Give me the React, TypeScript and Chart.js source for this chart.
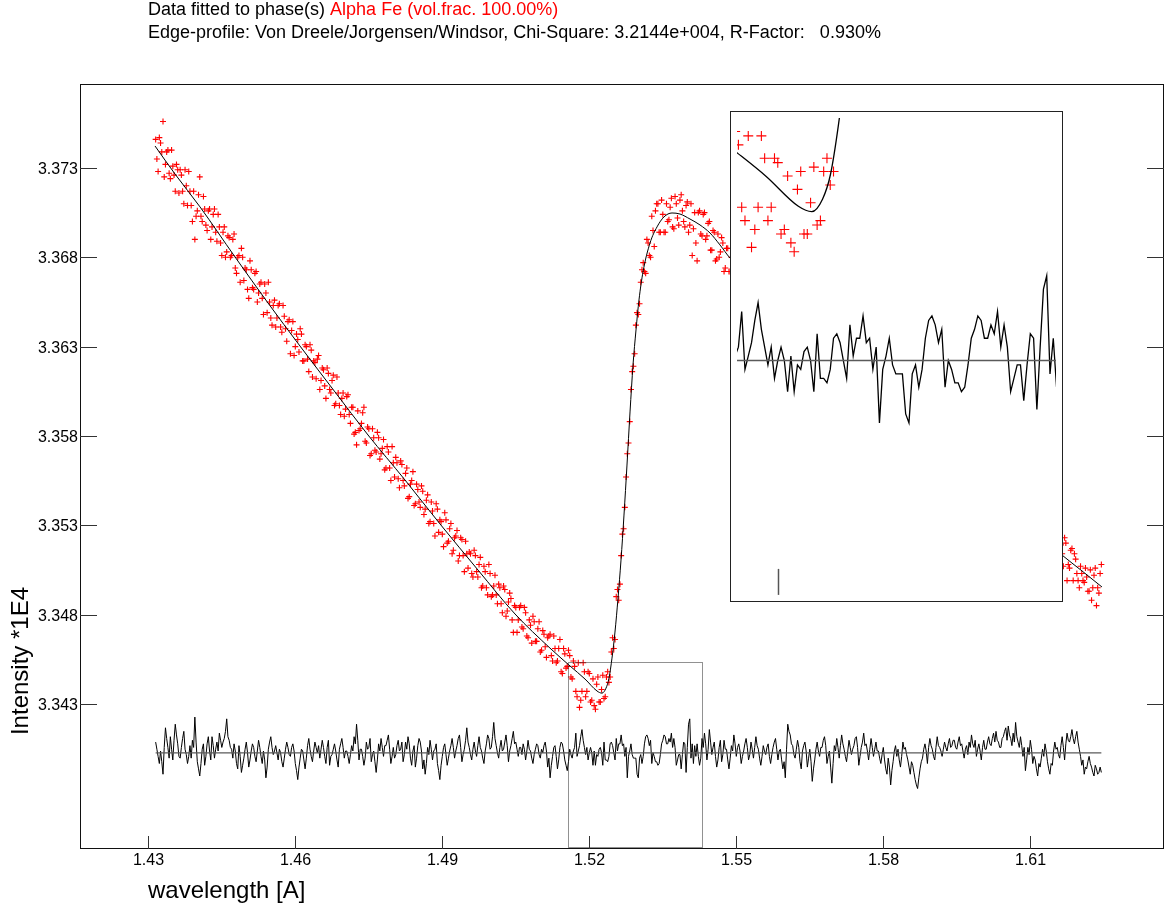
import { useEffect, useRef } from "react";
import { Chart, registerables } from "chart.js";

Chart.register(...registerables);

const FONT = '"Liberation Sans", Arial, Helvetica, sans-serif';

// Wavelength grid of the measured profile [A]
const wavelength = [
  1.4315, 1.43175, 1.432, 1.43225, 1.4325, 1.43275, 1.433, 1.43325, 1.4335, 1.43375,
  1.434, 1.43425, 1.4345, 1.43475, 1.435, 1.43525, 1.4355, 1.43575, 1.436, 1.43625,
  1.4365, 1.43675, 1.437, 1.43725, 1.4375, 1.43775, 1.438, 1.43825, 1.4385, 1.43875,
  1.439, 1.43925, 1.4395, 1.43975, 1.44, 1.44025, 1.4405, 1.44075, 1.441, 1.44125,
  1.4415, 1.44175, 1.442, 1.44225, 1.4425, 1.44275, 1.443, 1.44325, 1.4435, 1.44375,
  1.444, 1.44425, 1.4445, 1.44475, 1.445, 1.44525, 1.4455, 1.44575, 1.446, 1.44625,
  1.4465, 1.44675, 1.447, 1.44725, 1.4475, 1.44775, 1.448, 1.44825, 1.4485, 1.44875,
  1.449, 1.44925, 1.4495, 1.44975, 1.45, 1.45025, 1.4505, 1.45075, 1.451, 1.45125,
  1.4515, 1.45175, 1.452, 1.45225, 1.4525, 1.45275, 1.453, 1.45325, 1.4535, 1.45375,
  1.454, 1.45425, 1.4545, 1.45475, 1.455, 1.45525, 1.4555, 1.45575, 1.456, 1.45625,
  1.4565, 1.45675, 1.457, 1.45725, 1.4575, 1.45775, 1.458, 1.45825, 1.4585, 1.45875,
  1.459, 1.45925, 1.4595, 1.45975, 1.46, 1.46025, 1.4605, 1.46075, 1.461, 1.46125,
  1.4615, 1.46175, 1.462, 1.46225, 1.4625, 1.46275, 1.463, 1.46325, 1.4635, 1.46375,
  1.464, 1.46425, 1.4645, 1.46475, 1.465, 1.46525, 1.4655, 1.46575, 1.466, 1.46625,
  1.4665, 1.46675, 1.467, 1.46725, 1.4675, 1.46775, 1.468, 1.46825, 1.4685, 1.46875,
  1.469, 1.46925, 1.4695, 1.46975, 1.47, 1.47025, 1.4705, 1.47075, 1.471, 1.47125,
  1.4715, 1.47175, 1.472, 1.47225, 1.4725, 1.47275, 1.473, 1.47325, 1.4735, 1.47375,
  1.474, 1.47425, 1.4745, 1.47475, 1.475, 1.47525, 1.4755, 1.47575, 1.476, 1.47625,
  1.4765, 1.47675, 1.477, 1.47725, 1.4775, 1.47775, 1.478, 1.47825, 1.4785, 1.47875,
  1.479, 1.47925, 1.4795, 1.47975, 1.48, 1.48025, 1.4805, 1.48075, 1.481, 1.48125,
  1.4815, 1.48175, 1.482, 1.48225, 1.4825, 1.48275, 1.483, 1.48325, 1.4835, 1.48375,
  1.484, 1.48425, 1.4845, 1.48475, 1.485, 1.48525, 1.4855, 1.48575, 1.486, 1.48625,
  1.4865, 1.48675, 1.487, 1.48725, 1.4875, 1.48775, 1.488, 1.48825, 1.4885, 1.48875,
  1.489, 1.48925, 1.4895, 1.48975, 1.49, 1.49025, 1.4905, 1.49075, 1.491, 1.49125,
  1.4915, 1.49175, 1.492, 1.49225, 1.4925, 1.49275, 1.493, 1.49325, 1.4935, 1.49375,
  1.494, 1.49425, 1.4945, 1.49475, 1.495, 1.49525, 1.4955, 1.49575, 1.496, 1.49625,
  1.4965, 1.49675, 1.497, 1.49725, 1.4975, 1.49775, 1.498, 1.49825, 1.4985, 1.49875,
  1.499, 1.49925, 1.4995, 1.49975, 1.5, 1.50025, 1.5005, 1.50075, 1.501, 1.50125,
  1.5015, 1.50175, 1.502, 1.50225, 1.5025, 1.50275, 1.503, 1.50325, 1.5035, 1.50375,
  1.504, 1.50425, 1.5045, 1.50475, 1.505, 1.50525, 1.5055, 1.50575, 1.506, 1.50625,
  1.5065, 1.50675, 1.507, 1.50725, 1.5075, 1.50775, 1.508, 1.50825, 1.5085, 1.50875,
  1.509, 1.50925, 1.5095, 1.50975, 1.51, 1.51025, 1.5105, 1.51075, 1.511, 1.51125,
  1.5115, 1.51175, 1.512, 1.51225, 1.5125, 1.51275, 1.513, 1.51325, 1.5135, 1.51375,
  1.514, 1.51425, 1.5145, 1.51475, 1.515, 1.51525, 1.5155, 1.51575, 1.516, 1.51625,
  1.5165, 1.51675, 1.517, 1.51725, 1.5175, 1.51775, 1.518, 1.51825, 1.5185, 1.51875,
  1.519, 1.51925, 1.5195, 1.51975, 1.52, 1.52025, 1.5205, 1.52075, 1.521, 1.52125,
  1.5215, 1.52175, 1.522, 1.52225, 1.5225, 1.52275, 1.523, 1.52325, 1.5235, 1.52375,
  1.524, 1.52425, 1.5245, 1.52475, 1.525, 1.52525, 1.5255, 1.52575, 1.526, 1.52625,
  1.5265, 1.52675, 1.527, 1.52725, 1.5275, 1.52775, 1.528, 1.52825, 1.5285, 1.52875,
  1.529, 1.52925, 1.5295, 1.52975, 1.53, 1.53025, 1.5305, 1.53075, 1.531, 1.53125,
  1.5315, 1.53175, 1.532, 1.53225, 1.5325, 1.53275, 1.533, 1.53325, 1.5335, 1.53375,
  1.534, 1.53425, 1.5345, 1.53475, 1.535, 1.53525, 1.5355, 1.53575, 1.536, 1.53625,
  1.5365, 1.53675, 1.537, 1.53725, 1.5375, 1.53775, 1.538, 1.53825, 1.5385, 1.53875,
  1.539, 1.53925, 1.5395, 1.53975, 1.54, 1.54025, 1.5405, 1.54075, 1.541, 1.54125,
  1.5415, 1.54175, 1.542, 1.54225, 1.5425, 1.54275, 1.543, 1.54325, 1.5435, 1.54375,
  1.544, 1.54425, 1.5445, 1.54475, 1.545, 1.54525, 1.5455, 1.54575, 1.546, 1.54625,
  1.5465, 1.54675, 1.547, 1.54725, 1.5475, 1.54775, 1.548, 1.54825, 1.5485, 1.54875,
  1.549, 1.54925, 1.5495, 1.54975, 1.55, 1.55025, 1.5505, 1.55075, 1.551, 1.55125,
  1.5515, 1.55175, 1.552, 1.55225, 1.5525, 1.55275, 1.553, 1.55325, 1.5535, 1.55375,
  1.554, 1.55425, 1.5545, 1.55475, 1.555, 1.55525, 1.5555, 1.55575, 1.556, 1.55625,
  1.5565, 1.55675, 1.557, 1.55725, 1.5575, 1.55775, 1.558, 1.55825, 1.5585, 1.55875,
  1.559, 1.55925, 1.5595, 1.55975, 1.56, 1.56025, 1.5605, 1.56075, 1.561, 1.56125,
  1.5615, 1.56175, 1.562, 1.56225, 1.5625, 1.56275, 1.563, 1.56325, 1.5635, 1.56375,
  1.564, 1.56425, 1.5645, 1.56475, 1.565, 1.56525, 1.5655, 1.56575, 1.566, 1.56625,
  1.5665, 1.56675, 1.567, 1.56725, 1.5675, 1.56775, 1.568, 1.56825, 1.5685, 1.56875,
  1.569, 1.56925, 1.5695, 1.56975, 1.57, 1.57025, 1.5705, 1.57075, 1.571, 1.57125,
  1.5715, 1.57175, 1.572, 1.57225, 1.5725, 1.57275, 1.573, 1.57325, 1.5735, 1.57375,
  1.574, 1.57425, 1.5745, 1.57475, 1.575, 1.57525, 1.5755, 1.57575, 1.576, 1.57625,
  1.5765, 1.57675, 1.577, 1.57725, 1.5775, 1.57775, 1.578, 1.57825, 1.5785, 1.57875,
  1.579, 1.57925, 1.5795, 1.57975, 1.58, 1.58025, 1.5805, 1.58075, 1.581, 1.58125,
  1.5815, 1.58175, 1.582, 1.58225, 1.5825, 1.58275, 1.583, 1.58325, 1.5835, 1.58375,
  1.584, 1.58425, 1.5845, 1.58475, 1.585, 1.58525, 1.5855, 1.58575, 1.586, 1.58625,
  1.5865, 1.58675, 1.587, 1.58725, 1.5875, 1.58775, 1.588, 1.58825, 1.5885, 1.58875,
  1.589, 1.58925, 1.5895, 1.58975, 1.59, 1.59025, 1.5905, 1.59075, 1.591, 1.59125,
  1.5915, 1.59175, 1.592, 1.59225, 1.5925, 1.59275, 1.593, 1.59325, 1.5935, 1.59375,
  1.594, 1.59425, 1.5945, 1.59475, 1.595, 1.59525, 1.5955, 1.59575, 1.596, 1.59625,
  1.5965, 1.59675, 1.597, 1.59725, 1.5975, 1.59775, 1.598, 1.59825, 1.5985, 1.59875,
  1.599, 1.59925, 1.5995, 1.59975, 1.6, 1.60025, 1.6005, 1.60075, 1.601, 1.60125,
  1.6015, 1.60175, 1.602, 1.60225, 1.6025, 1.60275, 1.603, 1.60325, 1.6035, 1.60375,
  1.604, 1.60425, 1.6045, 1.60475, 1.605, 1.60525, 1.6055, 1.60575, 1.606, 1.60625,
  1.6065, 1.60675, 1.607, 1.60725, 1.6075, 1.60775, 1.608, 1.60825, 1.6085, 1.60875,
  1.609, 1.60925, 1.6095, 1.60975, 1.61, 1.61025, 1.6105, 1.61075, 1.611, 1.61125,
  1.6115, 1.61175, 1.612, 1.61225, 1.6125, 1.61275, 1.613, 1.61325, 1.6135, 1.61375,
  1.614, 1.61425, 1.6145, 1.61475, 1.615, 1.61525, 1.6155, 1.61575, 1.616, 1.61625,
  1.6165, 1.61675, 1.617, 1.61725, 1.6175, 1.61775, 1.618, 1.61825, 1.6185, 1.61875,
  1.619, 1.61925, 1.6195, 1.61975, 1.62, 1.62025, 1.6205, 1.62075, 1.621, 1.62125,
  1.6215, 1.62175, 1.622, 1.62225, 1.6225, 1.62275, 1.623, 1.62325, 1.6235, 1.62375,
  1.624, 1.62425, 1.6245,
];

// Observed intensity (*1E4) from the start of the grid up to the inset edge
const observedBefore = [
  3.3746, 3.3735, 3.3728, 3.3747, 3.3744, 3.3739, 3.3756, 3.3725, 3.3732, 3.3739,
  3.374, 3.3727, 3.3724, 3.374, 3.3731, 3.3726, 3.3717, 3.3732, 3.3729, 3.3716,
  3.3729, 3.3726, 3.3717, 3.371, 3.3729, 3.372, 3.3709, 3.3728, 3.3717, 3.3709,
  3.37, 3.3717, 3.369, 3.3703, 3.3706, 3.3715, 3.3725, 3.3703, 3.37, 3.3714,
  3.3707, 3.3698, 3.3695, 3.3706, 3.3707, 3.369, 3.3697, 3.3704, 3.3707, 3.3694,
  3.3689, 3.3704, 3.3697, 3.3688, 3.3681, 3.3694, 3.3697, 3.368, 3.3683, 3.3692,
  3.3691, 3.368, 3.3681, 3.369, 3.3693, 3.3674, 3.3671, 3.368, 3.3681, 3.3666,
  3.3685, 3.368, 3.3667, 3.3674, 3.3673, 3.3662, 3.3657, 3.3678, 3.3673, 3.3663,
  3.3662, 3.3671, 3.3672, 3.3655, 3.366, 3.3665, 3.3666, 3.3657, 3.3648, 3.3665,
  3.366, 3.3649, 3.3666, 3.3655, 3.3646, 3.3642, 3.3653, 3.3656, 3.3641, 3.3646,
  3.3653, 3.3654, 3.3641, 3.3638, 3.3653, 3.3647, 3.364, 3.3633, 3.3644, 3.3645,
  3.3626, 3.3639, 3.3644, 3.3625, 3.363, 3.3637, 3.3634, 3.3627, 3.364, 3.3637,
  3.3622, 3.3622, 3.3631, 3.363, 3.3623, 3.3616, 3.3631, 3.3628, 3.3613, 3.3622,
  3.3621, 3.3612, 3.3623, 3.3625, 3.3606, 3.3611, 3.3618, 3.3617, 3.3608, 3.3601,
  3.3618, 3.3615, 3.3606, 3.3604, 3.3611, 3.3614, 3.3597, 3.3598, 3.3613, 3.3604,
  3.3597, 3.3592, 3.3601, 3.3604, 3.3591, 3.3595, 3.3602, 3.3603, 3.3592, 3.3587,
  3.3596, 3.3596, 3.3581, 3.3582, 3.3575, 3.3594, 3.3583, 3.3584, 3.3587, 3.3593,
  3.3596, 3.3577, 3.3576, 3.3585, 3.3584, 3.3569, 3.357, 3.3584, 3.3579, 3.3572,
  3.3571, 3.3582, 3.3579, 3.3567, 3.357, 3.3573, 3.3578, 3.3561, 3.3562, 3.3574,
  3.3571, 3.3562, 3.3555, 3.3574, 3.3565, 3.3557, 3.3568, 3.3565, 3.3556, 3.3551,
  3.3566, 3.3564, 3.3555, 3.3552, 3.3559, 3.3562, 3.3545, 3.3546, 3.3553, 3.3555,
  3.356, 3.3541, 3.3542, 3.3553, 3.355, 3.3543, 3.354, 3.3552, 3.3549, 3.3536,
  3.3539, 3.3544, 3.3547, 3.3531, 3.3532, 3.3543, 3.3538, 3.3531, 3.3524, 3.3542,
  3.3539, 3.3526, 3.3533, 3.3532, 3.3525, 3.3518, 3.3537, 3.3533, 3.352, 3.3521,
  3.3528, 3.3531, 3.3514, 3.3516, 3.3523, 3.3524, 3.3527, 3.351, 3.3513, 3.3523,
  3.3522, 3.3513, 3.3504, 3.3521, 3.3514, 3.3506, 3.3515, 3.3514, 3.3503, 3.3501,
  3.3516, 3.3513, 3.3504, 3.3501, 3.3508, 3.3512, 3.3495, 3.3496, 3.3507, 3.3504,
  3.3495, 3.3491, 3.3508, 3.3503, 3.349, 3.3491, 3.3496, 3.3502, 3.3491, 3.3486,
  3.3497, 3.3495, 3.3486, 3.3481, 3.3496, 3.3494, 3.3479, 3.3482, 3.3487, 3.3492,
  3.3489, 3.3477, 3.347, 3.3485, 3.3484, 3.347, 3.3477, 3.3484, 3.3485, 3.3473,
  3.3472, 3.3484, 3.3481, 3.3468, 3.3467, 3.3477, 3.3474, 3.3464, 3.3479, 3.3476,
  3.3465, 3.3465, 3.3472, 3.3476, 3.3459, 3.346, 3.3471, 3.3469, 3.3462, 3.3456,
  3.3467, 3.3468, 3.3469, 3.3457, 3.3454, 3.3468, 3.3461, 3.3453, 3.3454, 3.3461,
  3.3466, 3.3448, 3.3447, 3.3461, 3.3458, 3.345, 3.3451, 3.346, 3.3457, 3.3445,
  3.3444, 3.3454, 3.3451, 3.3437, 3.3434, 3.3453, 3.3428, 3.3432, 3.3437, 3.3453,
  3.3448, 3.3434, 3.3437, 3.3448, 3.3447, 3.3431, 3.3432, 3.3444, 3.3429, 3.3427,
  3.3441, 3.3445, 3.3431, 3.3431, 3.3438, 3.3446, 3.3433, 3.3434, 3.3445, 3.3448,
  3.3442, 3.3445, 3.3459, 3.3467, 3.3461, 3.3466, 3.349, 3.3494, 3.3488, 3.3497,
  3.3513, 3.3525, 3.3528, 3.354, 3.3557, 3.357, 3.3576, 3.3588, 3.3606, 3.3616,
  3.3619, 3.3626, 3.3642, 3.3649, 3.3648, 3.3654, 3.3666, 3.3673, 3.3677, 3.3672,
  3.3671, 3.369, 3.3688, 3.3681, 3.368, 3.3703, 3.3695, 3.3686, 3.3706, 3.371,
  3.371, 3.3694, 3.3694, 3.3712, 3.3704, 3.3694, 3.3694, 3.371, 3.37, 3.3701,
  3.3708, 3.3713, 3.3697, 3.3696, 3.3714, 3.371, 3.3702, 3.3698, 3.3712, 3.3715,
  3.3706, 3.37, 3.3697, 3.3709, 3.3711, 3.3694, 3.3698, 3.371, 3.3681, 3.3696,
  3.3705, 3.3688, 3.3678, 3.3705, 3.3706, 3.3693, 3.3692, 3.3704, 3.3705, 3.369,
  3.3692, 3.3699, 3.37, 3.3684, 3.3684, 3.3695, 3.3694, 3.3678, 3.3679, 3.3693,
  3.368, 3.3683, 3.3691, 3.3688, 3.3672, 3.3674, 3.3685, 3.3685, 3.3672, 3.3672,
  3.368, 3.368,
];

// Observed intensity (*1E4) on the last grid points, right of the inset
const observedAfter = [
  3.352, 3.3519, 3.3514, 3.3507, 3.3523, 3.352, 3.3499, 3.3508, 3.3506, 3.3516,
  3.3517, 3.3499, 3.3514, 3.3511, 3.3503, 3.3499, 3.3495, 3.3507, 3.3503, 3.3499,
  3.3498, 3.3506, 3.3501, 3.3493, 3.3493, 3.3505, 3.3488, 3.3495, 3.3502, 3.3506,
  3.3485, 3.3495, 3.3492, 3.3503, 3.3508,
];

// Difference curve obs - calc in counts (the axis shows counts / 1E4)
const residualCounts = [
  6, 2, -2, -6, 1, -5, -12, 3, 14, 8,
  3, -3, 9, 2, -4, 7, 16, 10, 5, -2,
  -3, 3, 8, 12, 2, -1, -6, -2, 4, -3,
  7, 3, 20, 6, -5, -9, -13, -6, 2, 5,
  -7, -2, 5, 9, 1, -4, 9, 4, -3, 2,
  6, 1, 11, 7, 3, 6, 8, 12, 19, 9,
  7, 3, 2, -3, 5, 1, -6, -9, 4, -2,
  -11, -7, -3, 2, 6, 0, -8, -4, 1, 5,
  3, -2, -5, 1, 7, 3, -2, -6, 1, -4,
  -14, -8, 2, 6, 9, 3, -1, 1, 4, 0,
  -4, 2, 0, -5, -8, -3, 2, 6, 3, -1,
  -2, 3, 5, 1, -6, -10, -15, -8, -3, 2,
  1, -4, -9, -3, 4, 8, 2, -2, -5, 1,
  6, 3, 0, 4, -3, 2, 7, 3, -2, -6,
  3, 7, -7, -2, -1, 2, 5, 1, -4, -8,
  2, 5, 8, 3, -3, 1, 1, -2, -6, -1,
  4, 1, 9, 5, 16, 7, -4, 2, 2, -2,
  -7, -3, 6, 2, 3, 8, -5, -1, 1, -5,
  -11, -4, 5, 1, 8, 3, -2, 4, 4, 7,
  10, 2, -6, -2, 3, -3, -1, 4, 7, 1,
  2, 6, -5, -1, 6, 2, 9, 5, -3, -7,
  1, 4, -8, -3, 4, 8, 6, 1, -9, -4,
  -12, -6, 3, -1, 7, 2, -4, 1, 2, 5,
  -6, -10, -15, -7, -2, 3, 5, -1, -7, -3,
  1, 4, 8, 3, -3, 1, 4, 8, 10, 3,
  -5, -1, 2, 7, 14, 6, 3, -1, -4, 2,
  6, 1, -2, 4, 9, 3, 1, -3, -6, 1,
  5, 10, 8, 2, 3, 9, 17, 8, 4, 0,
  -3, 3, 7, 1, 2, 6, 10, 4, -5, 1,
  4, 8, 12, 5, 6, 2, -2, 3, 3, -1,
  5, 2, -4, 1, 7, 2, 1, -3, -6, -1,
  2, 5, 4, -1, -3, 2, 0, 4, 6, 1,
  -8, -3, -14, -7, -2, 3, 4, -2, -9, -4,
  3, 6, 5, 1, -4, -7, -10, -5, 2, -1,
  -3, 1,
  3, 11, -2, 1, 4, 9, 13, 7, 3, -1,
  3, -4, 0, 3, 0, -7, 1, -7, -1, -2,
  2, 3, 0, -7, 6, -4, -4, -5, -2, 5,
  6, 4, 0, -4, 8, 1, 5, 5, 10, 4,
  5, -2, 3, -14, -2, 1, 5, -1, -3, -3,
  -3, -12, -14, -3, -1, -6, -2, 5, 9, 10,
  8, 4, 7, -6, 0, -2, -5, -5, -7, -6,
  -1, 5, 7, 10, 9, 5, 5, 8, 6, 11,
  3, 8, 3, -7, -4, -1, -1, -9, -1, 6,
  5, -11, 3, 16, 19, -3,
  5, -6, 4, -2,
  5, -2, -7, -3, 8, 3, 11, 5, -4, 2,
  13, 6, -1, 3, 6, -2, -8, -4, 3, 7,
  -5, -1, 7, 2, 2, -4, -9, -3, 4, 1,
  10, 5, -2, 3, 5, 1, -6, -2, 1, 5,
  8, 3, -4, -1, 6, 2, -3, 3, 9, 4,
  2, -3, -7, -2, 4, 1, -1, 3, 5, -2,
  -6, -1, 3, 6, 8, 2, -4, 1, 2, -4,
  -9, -5, -14, 2, 16, 12, 10, 5, 4, -1,
  -3, 2, 7, 3, -5, -9, 1, 4, 6, 1,
  -8, -3, 2, -5, -16, -9, -4, 2, 6, 1,
  -2, 3, 3, 7, 9, 4, -6, -2, 1, -8,
  -17, -6, 4, 1, 8, 3, -3, 4, 10, 5,
  2, -2, -5, 1, 7, 3, -1, 2, 4, 8,
  9, 3, -7, -2, 3, 6, 11, 4, 5, 1,
  -4, 2, 8, 3, -2, 2, 6, 1, 1, -3,
  -6, -1, 3, -4, -9, -12, -3, -8, -18, -10,
  -5, 1, 4, -2, 2, -4, -8, -2, 6, 2,
  3, -1, -4, -8, -12, -5, -7, -11, -15, -18,
  -20, -14, -9, -5, -3, 2, 5, 1, -6, 3,
  8, 4, 2, -2, -4, 3, 9, 4, 3, 1,
  -2, 2, 6, 3, 1, 5, 8, 3, 4, 7,
  7, 3, 2, 6, 9, 4, 5, 1, -3, 2,
  4, -1, 6, 3, 10, 5, 3, 7, -2, 2,
  5, 1, -4, 3, 7, 2, 2, 6, 9, 5,
  4, 8, 11, 6, 12, 7, 6, 3, 3, 8,
  9, 12, 14, 7, 15, 10, 8, 4, 11, 6,
  17, 9, 6, 3, 9, 4, -2, 3, -10, -4,
  3, -1, 7, 2, -6, -2, -4, -9, -13, -6,
  -8, -3, 2, -2, 5, 1, -5, -9, -12, -6,
  -7, 1, 6, 2, 3, -1, -3, 4, 9, 3,
  -4, 5, 11, 7, 6, 9, 13, 8, 5, 9,
  12, 6, 2, -2, -7, -4, -12, -8, -9, -5,
  -2, -6, -8, -11, -13, -7, -9, -12, -11, -8,
  -11,
];
const COUNTS_PER_UNIT = 1e4;
const RESIDUAL_BASE = 3.34026;

// Calculated edge profile
const fitWavelength = [
  1.43137, 1.43545, 1.44055, 1.44769, 1.45443, 1.46096, 1.4681, 1.47484, 1.48239,
  1.48953, 1.49729, 1.50484, 1.51198, 1.51606, 1.51912, 1.52157, 1.52259, 1.52341,
  1.52402, 1.52463, 1.52524, 1.52586, 1.52647, 1.52708, 1.52769, 1.52831, 1.52892,
  1.52953, 1.53014, 1.53096, 1.53239, 1.53382, 1.53524, 1.53688, 1.53851, 1.54055,
  1.54259, 1.54463, 1.54667, 1.54871, 1.61647, 1.62055, 1.62463,
];
const fitIntensity = [
  3.37423, 3.37266, 3.37082, 3.36802, 3.36544, 3.36303, 3.36046, 3.35805, 3.35553,
  3.35307, 3.35049, 3.34803, 3.34612, 3.34512, 3.34439, 3.34372, 3.3436, 3.34388,
  3.34444, 3.34556, 3.34702, 3.34892, 3.35105, 3.35357, 3.35637, 3.35934, 3.36197,
  3.36393, 3.36561, 3.36718, 3.3688, 3.3697, 3.37026, 3.37048, 3.37042, 3.37014,
  3.36981, 3.36936, 3.36869, 3.36796, 3.35133, 3.35044, 3.34954,
];

const xTicks = [1.43, 1.46, 1.49, 1.52, 1.55, 1.58, 1.61];
const yTicks = [3.343, 3.348, 3.353, 3.358, 3.363, 3.368, 3.373];

const X_RANGE = [1.41606, 1.63708];
const Y_RANGE = [3.33493, 3.3777];
// Marked zoom window and the range shown in the enlarged view
const zoomBoxX = [1.5157, 1.5431];
const zoomBoxY = [3.335, 3.34536];
const insetX = [1.5169, 1.5412];
const insetY = [3.335, 3.3457];

const titleLine1 = "Data fitted to phase(s) ";
const titlePhase = "Alpha Fe (vol.frac. 100.00%)";
const titleLine2 =
  "Edge-profile: Von Dreele/Jorgensen/Windsor, Chi-Square: 3.2144e+004, R-Factor:   0.930%";
const xTitle = "wavelength [A]";
const yTitle = "Intensity *1E4";

function buildDatasets(crossRadius: number, lineWidth: number, baseWidth: number) {
  const afterStart = wavelength.length - observedAfter.length;
  const obs = [
    ...observedBefore.map((v, i) => ({ x: wavelength[i], y: v })),
    ...observedAfter.map((v, i) => ({ x: wavelength[afterStart + i], y: v })),
  ];
  return [
    {
      label: "calc",
      data: fitWavelength.map((w, i) => ({ x: w, y: fitIntensity[i] })),
      borderColor: "#000",
      borderWidth: lineWidth,
      pointRadius: 0,
      cubicInterpolationMode: "monotone" as const,
    },
    {
      label: "obs",
      data: obs,
      showLine: false,
      pointStyle: "cross" as const,
      pointRadius: crossRadius,
      pointBorderColor: "#ff0000",
      pointBorderWidth: 1.1,
      borderColor: "#ff0000",
    },
    {
      label: "zero",
      data: [
        { x: wavelength[0], y: RESIDUAL_BASE },
        { x: wavelength[wavelength.length - 1], y: RESIDUAL_BASE },
      ],
      borderColor: "#5a5a5a",
      borderWidth: baseWidth,
      pointRadius: 0,
    },
    {
      label: "diff",
      data: wavelength.map((w, i) => ({
        x: w,
        y: RESIDUAL_BASE + residualCounts[i] / COUNTS_PER_UNIT,
      })),
      borderColor: "#000",
      borderWidth: lineWidth,
      pointRadius: 0,
    },
  ];
}

const mainDecor = {
  id: "mainDecor",
  afterDraw(chart: any) {
    const { ctx, chartArea: a } = chart;
    const xs = chart.scales.x;
    const ys = chart.scales.y;
    ctx.save();

    // zoom window
    const zx0 = Math.round(xs.getPixelForValue(zoomBoxX[0])) + 0.5;
    const zx1 = Math.round(xs.getPixelForValue(zoomBoxX[1])) + 0.5;
    const zy0 = Math.round(ys.getPixelForValue(zoomBoxY[1])) + 0.5;
    const zy1 = Math.round(ys.getPixelForValue(zoomBoxY[0])) + 0.5;
    ctx.setLineDash([1, 1]);
    ctx.strokeStyle = "#222";
    ctx.lineWidth = 1;
    ctx.strokeRect(zx0, zy0, zx1 - zx0, zy1 - zy0);
    ctx.setLineDash([]);

    // frame
    ctx.strokeStyle = "#111";
    ctx.strokeRect(a.left + 0.5, a.top + 0.5, a.right - a.left, a.bottom - a.top);

    // inward ticks and labels
    ctx.strokeStyle = "#333";
    ctx.fillStyle = "#000";
    ctx.font = `16px ${FONT}`;
    ctx.textAlign = "right";
    ctx.textBaseline = "middle";
    for (const v of yTicks) {
      const py = Math.round(ys.getPixelForValue(v)) + 0.5;
      ctx.beginPath();
      ctx.moveTo(a.left, py);
      ctx.lineTo(a.left + 17, py);
      ctx.moveTo(a.right + 1, py);
      ctx.lineTo(a.right - 16, py);
      ctx.stroke();
      ctx.fillText(v.toFixed(3), a.left - 2, py + 1);
    }
    ctx.textAlign = "center";
    ctx.textBaseline = "top";
    for (const v of xTicks) {
      const px = Math.round(xs.getPixelForValue(v)) + 0.5;
      ctx.beginPath();
      ctx.moveTo(px, a.bottom + 1);
      ctx.lineTo(px, a.bottom - 12);
      ctx.stroke();
      ctx.fillText(v.toFixed(2), px, a.bottom + 5);
    }

    // axis titles
    ctx.font = `24px ${FONT}`;
    ctx.textAlign = "left";
    ctx.textBaseline = "alphabetic";
    ctx.fillText(xTitle, 148, 898);
    ctx.save();
    ctx.translate(28, 661);
    ctx.rotate(-Math.PI / 2);
    ctx.textAlign = "center";
    ctx.fillText(yTitle, 0, 0);
    ctx.restore();

    // header
    ctx.font = `18px ${FONT}`;
    ctx.fillStyle = "#000";
    ctx.fillText(titleLine1, 148, 15);
    const w1 = ctx.measureText(titleLine1).width;
    ctx.fillStyle = "#ff0000";
    ctx.fillText(titlePhase, 148 + w1, 15);
    ctx.fillStyle = "#000";
    ctx.fillText(titleLine2, 148, 38);
    ctx.restore();
  },
};

const insetDecor = {
  id: "insetDecor",
  afterDraw(chart: any) {
    const { ctx, chartArea: a } = chart;
    const xs = chart.scales.x;
    ctx.save();
    ctx.strokeStyle = "#555";
    ctx.lineWidth = 1.5;
    for (const v of xTicks) {
      if (v <= insetX[0] || v >= insetX[1]) continue;
      const px = Math.round(xs.getPixelForValue(v)) + 0.5;
      ctx.beginPath();
      ctx.moveTo(px, a.bottom);
      ctx.lineTo(px, a.bottom - 26);
      ctx.stroke();
    }
    ctx.restore();
  },
};

export default function App() {
  const mainRef = useRef<HTMLCanvasElement>(null);
  const insetRef = useRef<HTMLCanvasElement>(null);

  useEffect(() => {
    const main = new Chart(mainRef.current as HTMLCanvasElement, {
      type: "line",
      data: { datasets: buildDatasets(3, 1, 1.3) as any },
      options: {
        responsive: false,
        animation: false,
        events: [],
        layout: { padding: { left: 80, top: 84, right: 8, bottom: 63 } },
        scales: {
          x: { type: "linear", min: X_RANGE[0], max: X_RANGE[1], display: false },
          y: { type: "linear", min: Y_RANGE[0], max: Y_RANGE[1], display: false },
        },
        plugins: { legend: { display: false }, tooltip: { enabled: false } },
      },
      plugins: [mainDecor],
    });

    const inset = new Chart(insetRef.current as HTMLCanvasElement, {
      type: "line",
      data: { datasets: buildDatasets(5, 1.3, 1.6) as any },
      options: {
        responsive: false,
        animation: false,
        events: [],
        layout: { padding: 0 },
        scales: {
          x: { type: "linear", min: insetX[0], max: insetX[1], display: false },
          y: { type: "linear", min: insetY[0], max: insetY[1], display: false },
        },
        plugins: { legend: { display: false }, tooltip: { enabled: false } },
      },
      plugins: [insetDecor],
    });

    return () => {
      main.destroy();
      inset.destroy();
    };
  }, []);

  return (
    <div
      style={{
        position: "fixed",
        left: 0,
        top: 0,
        width: 1171,
        height: 911,
        background: "#fff",
        overflow: "hidden",
      }}
    >
      <canvas
        ref={mainRef}
        width={1171}
        height={911}
        style={{ position: "absolute", left: 0, top: 0 }}
      />
      <div
        style={{
          position: "absolute",
          left: 730,
          top: 111,
          width: 333,
          height: 491,
          boxSizing: "border-box",
          border: "1px solid #222",
          background: "#fff",
        }}
      >
        <canvas ref={insetRef} width={331} height={489} style={{ display: "block" }} />
      </div>
    </div>
  );
}
